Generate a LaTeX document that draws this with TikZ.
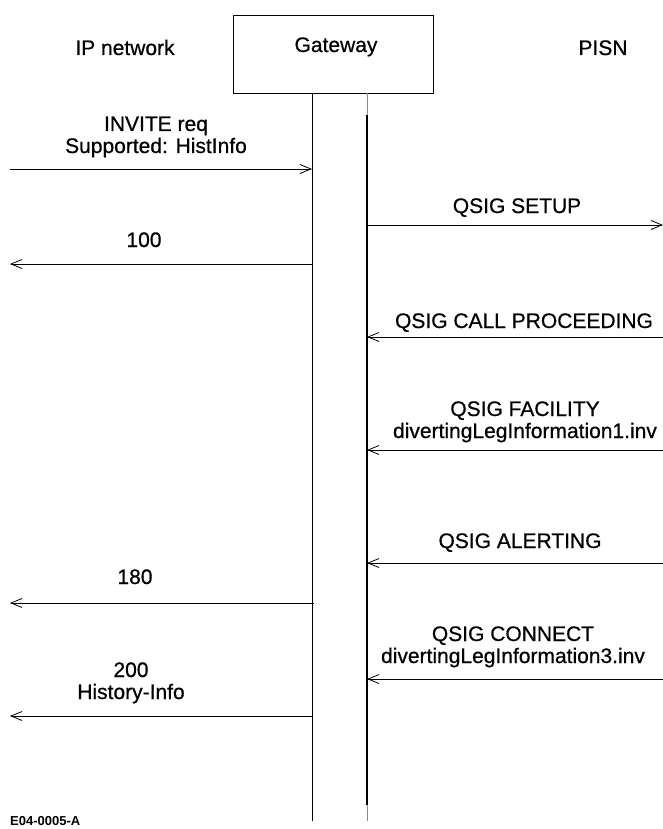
\documentclass[tikz,border=0pt]{standalone}
\usepackage{fontspec}
\setmainfont{Liberation Sans}[UprightFeatures={FakeBold=0.6}]
\usetikzlibrary{arrows.meta,positioning}

\begin{document}
\begin{tikzpicture}[x=1pt, y=-1pt,
    entity/.style={rectangle, draw=black, line width=0.8pt, minimum width=200pt, minimum height=78pt, inner sep=0pt},
    title/.style={anchor=base, font=\fontsize{21}{22}\selectfont},
    msg/.style={anchor=base, align=center, font=\fontsize{21}{22}\selectfont},
    lifeline/.style={line width=0.8pt},
    arrow/.style={-{Straight Barb[length=11pt,width=9pt,line width=0.8pt]}, line width=0.8pt}
]
\useasboundingbox (0,0) rectangle (663,829);

% Headers
\node[entity] (gw) at (333,54) {};
\node[title] (gwlabel) at (336,52) {Gateway};
\node[title] (iplabel) at (125,55) {IP network};
\node[title] (pisnlabel) at (603,55) {PISN};

% Lifelines
\coordinate (ltop) at (312,93);
\coordinate (lbot) at (312,821);
\coordinate (rtop) at (367,93);
\coordinate (rbot) at (367,821);
\draw[lifeline] (ltop) -- (lbot);
\draw[lifeline, black!45] (rtop) -- (rbot);
\draw[line width=2pt] (367,115) -- (367,805);

% Ends of the messages
\coordinate (ip1) at (10,169);   \coordinate (gl1) at (312,169);
\coordinate (gr2) at (367,225);  \coordinate (ps2) at (663,225);
\coordinate (gl3) at (312,264);  \coordinate (ip3) at (10,264);
\coordinate (ps4) at (663,337);  \coordinate (gr4) at (367,337);
\coordinate (ps5) at (663,450);  \coordinate (gr5) at (367,450);
\coordinate (ps6) at (663,563);  \coordinate (gr6) at (367,563);
\coordinate (gl7) at (314,603);  \coordinate (ip7) at (10,603);
\coordinate (ps8) at (663,679);  \coordinate (gr8) at (367,679);
\coordinate (gl9) at (312,716);  \coordinate (ip9) at (10,716);

% Messages (two-line labels sit on their last line)
\draw[arrow] (ip1) -- (gl1);
\node[msg] (invite) at (156,153) {INVITE req\\Supported: HistInfo};

\draw[arrow] (gr2) -- (ps2);
\node[msg] (setup) at (517,213) {QSIG SETUP};

\draw[arrow] (gl3) -- (ip3);
\node[msg] (trying) at (144,247) {100};

\draw[arrow] (ps4) -- (gr4);
\node[msg] (proceeding) at (524,328) {QSIG CALL PROCEEDING};

\draw[arrow] (ps5) -- (gr5);
\node[msg] (facility) at (525,438) {QSIG FACILITY\\divertingLegInformation1.inv};

\draw[arrow] (ps6) -- (gr6);
\node[msg] (alerting) at (520,548) {QSIG ALERTING};

\draw[arrow] (gl7) -- (ip7);
\node[msg] (ringing) at (135,584) {180};

\draw[arrow] (ps8) -- (gr8);
\node[msg] (connect) at (513,663) {QSIG CONNECT\\divertingLegInformation3.inv};

\draw[arrow] (gl9) -- (ip9);
\node[msg] (ok) at (131,699) {200\\History-Info};

% Figure number
\node[anchor=base west, inner sep=0pt, font=\bfseries\fontsize{13}{13}\selectfont] (fignum) at (10,825) {E04-0005-A};

\end{tikzpicture}
\end{document}
